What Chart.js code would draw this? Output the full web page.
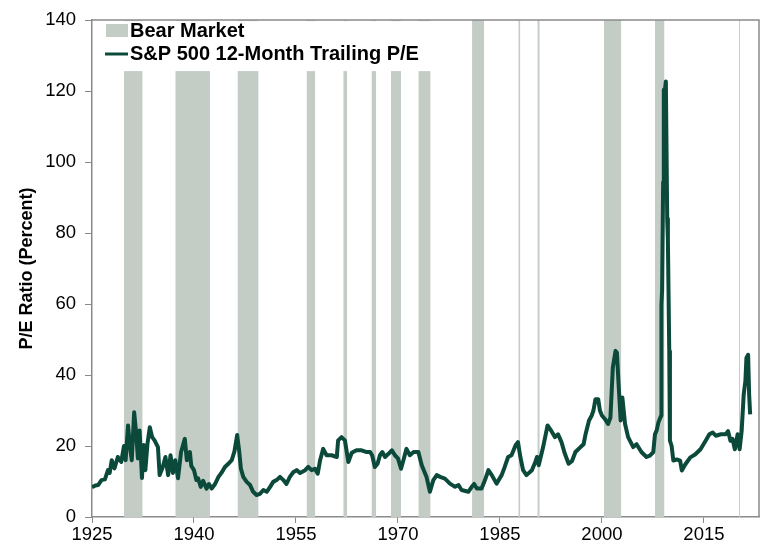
<!DOCTYPE html>
<html>
<head>
<meta charset="utf-8">
<script src="https://cdn.jsdelivr.net/npm/chart.js@4.4.1/dist/chart.umd.min.js"></script>
<style>
html, body { margin: 0; padding: 0; background: #fff; }
#wrap { width: 770px; height: 559px; }
</style>
</head>
<body>
<div id="wrap"><canvas id="peChart" width="770" height="559"></canvas></div>
<script>
// P/E readings (year, value)
var years = [
  1925.0, 1925.5, 1925.9, 1926.4, 1926.9, 1927.35, 1927.6, 1927.9, 1928.3, 1928.8,
  1929.3, 1929.7, 1929.95, 1930.3, 1930.6, 1930.85, 1931.2, 1931.5, 1931.75, 1932.0,
  1932.35, 1932.6, 1932.85, 1933.15, 1933.5, 1933.85, 1934.2, 1934.7, 1934.95, 1935.4,
  1935.8, 1936.2, 1936.55, 1936.9, 1937.25, 1937.65, 1938.1, 1938.65, 1938.95, 1939.4,
  1939.6, 1940.0, 1940.35, 1940.6, 1941.0, 1941.35, 1941.85, 1942.2, 1942.6, 1943.1,
  1943.6, 1944.1, 1944.55, 1945.05, 1945.55, 1945.95, 1946.35, 1946.65, 1946.9, 1947.25,
  1947.75, 1948.25, 1948.7, 1949.2, 1949.7, 1950.2, 1950.7, 1951.2, 1951.65, 1952.15,
  1952.65, 1953.15, 1953.6, 1954.1, 1954.6, 1955.1, 1955.6, 1956.35, 1956.8, 1957.3,
  1957.8, 1958.2, 1958.55, 1959.0, 1959.5, 1960.25, 1961.0, 1961.2, 1961.7, 1962.2,
  1962.45, 1962.7, 1963.2, 1963.9, 1964.65, 1965.4, 1965.9, 1966.2, 1966.6, 1967.0,
  1967.35, 1967.7, 1968.1, 1968.6, 1969.1, 1969.55, 1970.0, 1970.45, 1970.8, 1971.25,
  1971.75, 1972.3, 1973.0, 1973.5, 1974.2, 1974.7, 1975.2, 1975.7, 1976.2, 1976.9,
  1977.65, 1978.4, 1978.9, 1979.35, 1980.35, 1980.85, 1981.2, 1981.6, 1982.3, 1982.8,
  1983.3, 1983.8, 1984.5, 1985.25, 1985.7, 1986.2, 1986.7, 1987.3, 1987.65, 1988.0,
  1988.4, 1988.9, 1989.7, 1990.2, 1990.45, 1990.7, 1991.35, 1992.0, 1992.6, 1993.1,
  1993.55, 1994.05, 1994.55, 1995.1, 1995.6, 1996.1, 1996.85, 1997.3, 1997.6, 1998.1,
  1998.5, 1998.75, 1999.05, 1999.45, 1999.7, 2000.0, 2000.4, 2000.9, 2001.25, 2001.6,
  2002.0, 2002.2, 2002.45, 2002.75, 2003.0, 2003.4, 2003.85, 2004.6, 2005.1, 2005.8,
  2006.55, 2007.05, 2007.55, 2007.8, 2008.05, 2008.3, 2008.7, 2008.75, 2008.85, 2009.0,
  2009.1, 2009.25, 2009.4, 2009.6, 2009.7, 2009.9, 2010.0, 2010.25, 2010.5, 2011.0,
  2011.5, 2011.75, 2012.25, 2013.0, 2013.7, 2014.5, 2015.25, 2015.8, 2016.3, 2016.75,
  2017.5, 2018.2, 2018.55, 2018.9, 2019.2, 2019.55, 2019.95, 2020.25, 2020.55, 2020.85,
  2021.1, 2021.25, 2021.5, 2021.65, 2021.8
];
var peValues = [
  8.4, 8.9, 9.0, 10.4, 10.6, 13.2, 12.4, 16.0, 13.7, 16.9,
  15.5, 20.0, 16.0, 25.8, 19.7, 16.0, 29.5, 23.5, 16.5, 24.4,
  11.0, 20.3, 13.2, 20.5, 25.3, 22.5, 21.6, 19.7, 11.8, 14.0,
  16.9, 11.8, 17.4, 12.4, 16.0, 10.9, 18.3, 22.0, 16.0, 18.3,
  14.4, 13.2, 10.4, 10.9, 8.5, 10.2, 8.0, 9.3, 8.0, 9.3,
  11.3, 12.6, 14.1, 15.0, 16.0, 18.5, 23.1, 18.5, 13.6, 11.3,
  9.9, 9.0, 7.1, 6.2, 6.5, 7.6, 7.1, 8.5, 9.9, 10.4,
  11.3, 10.4, 9.3, 11.3, 12.6, 13.2, 12.4, 13.2, 14.1, 13.2,
  13.6, 12.2, 16.0, 19.2, 17.4, 17.4, 16.9, 21.6, 22.5, 21.6,
  18.5, 15.5, 18.1, 18.8, 18.8, 18.3, 18.3, 17.4, 14.1, 15.0,
  17.4, 18.3, 16.9, 17.8, 18.8, 17.4, 16.5, 13.6, 16.0, 19.2,
  17.4, 18.3, 18.3, 14.6, 11.3, 7.1, 10.4, 11.8, 11.3, 10.8,
  9.4, 8.5, 9.0, 7.6, 7.1, 8.5, 9.3, 8.0, 8.0, 10.4,
  13.2, 11.8, 9.4, 11.8, 14.1, 16.9, 17.4, 20.2, 21.1, 16.9,
  13.2, 11.8, 13.2, 15.5, 16.9, 14.6, 19.7, 25.8, 24.1, 22.5,
  23.3, 21.1, 17.8, 15.0, 15.8, 18.3, 19.7, 20.5, 23.4, 27.2,
  28.6, 30.0, 33.2, 33.2, 30.0, 28.6, 27.7, 26.2, 28.0, 42.1,
  46.8, 46.3, 37.4, 27.2, 33.7, 26.2, 22.5, 19.7, 20.5, 18.3,
  16.9, 17.3, 18.3, 23.3, 24.4, 26.6, 28.5, 59.7, 64.0, 94.3,
  120.4, 120.0, 122.7, 84.0, 78.0, 46.7, 21.5, 20.0, 15.9, 16.2,
  15.9, 13.1, 14.8, 16.8, 17.6, 19.1, 21.5, 23.3, 23.8, 22.9,
  23.3, 23.3, 24.2, 21.5, 22.0, 19.1, 23.3, 19.1, 24.2, 34.5,
  38.3, 44.8, 45.7, 34.5, 28.9
];

// bear market periods
var bearStart = [1929.7, 1937.25, 1946.4, 1956.55, 1961.95, 1966.1, 1968.95, 1973.0, 1980.9, 1987.7, 1990.5, 2000.3, 2007.8, 2020.15];
var bearEnd   = [1932.45, 1942.35, 1949.5, 1957.85, 1962.55, 1966.8, 1970.45, 1974.8, 1982.65, 1988.0, 1990.85, 2002.85, 2009.2, 2020.3];

var xTicks = [1925, 1940, 1955, 1970, 1985, 2000, 2015];
var yTicks = [0, 20, 40, 60, 80, 100, 120, 140];

var lineColor = '#0b4a3b';
var bearColor = '#c3cdc5';
var axisColor = '#8a8a8a';

var pePoints = years.map(function (y, i) { return { x: y, y: peValues[i] }; });

var yMax = yTicks[yTicks.length - 1];
var bearPoints = [];
for (var i = 0; i < bearStart.length; i++) {
  bearPoints.push({ x: bearStart[i], y: yMax });
  bearPoints.push({ x: bearEnd[i], y: yMax });
  bearPoints.push({ x: bearEnd[i], y: null }); // gap between periods
}

// frame + legend inside the plot area (white box over the bands)
var insideLegend = {
  id: 'insideLegend',
  afterDatasetsDraw: function (chart) {
    var c = chart.ctx, a = chart.chartArea;
    var ds = chart.data.datasets;
    c.save();
    c.fillStyle = '#fff';
    c.fillRect(a.left + 1, a.top + 1, 350, 50);

    c.fillStyle = bearColor;
    c.fillRect(106, 24, 22, 13);
    c.strokeStyle = lineColor;
    c.lineWidth = 3;
    c.beginPath();
    c.moveTo(105, 54);
    c.lineTo(128, 54);
    c.stroke();

    c.fillStyle = '#000';
    c.font = 'bold 20px "Liberation Sans", Arial, sans-serif';
    c.textBaseline = 'middle';
    c.fillText(ds[1].label, 130, 31);
    c.fillText(ds[0].label, 130, 54);

    c.strokeStyle = axisColor;
    c.lineWidth = 1.5;
    c.beginPath();
    c.moveTo(a.left, a.top);
    c.lineTo(a.right, a.top);
    c.lineTo(a.right, a.bottom);
    c.stroke();
    c.restore();
  }
};

var ctx = document.getElementById('peChart').getContext('2d');
var peChart = new Chart(ctx, {
  type: 'line',
  data: {
    datasets: [{
      label: 'S&P 500 12-Month Trailing P/E',
      data: pePoints,
      borderColor: lineColor,
      borderWidth: 4,
      borderJoinStyle: 'round',
      pointRadius: 0,
      tension: 0,
      fill: false,
      order: 1
    }, {
      label: 'Bear Market',
      data: bearPoints,
      borderWidth: 0,
      borderColor: 'rgba(0,0,0,0)',
      backgroundColor: bearColor,
      pointRadius: 0,
      tension: 0,
      spanGaps: false,
      fill: 'origin',
      order: 2
    }]
  },
  options: {
    responsive: false,
    animation: false,
    layout: { padding: { top: 17, right: 11, left: 0, bottom: 0 } },
    plugins: {
      legend: { display: false },
      tooltip: { enabled: false }
    },
    scales: {
      x: {
        type: 'linear',
        min: 1925,
        max: 2023.1,
        afterBuildTicks: function (s) { s.ticks = xTicks.map(function (v) { return { value: v }; }); },
        afterFit: function (s) { s.height = 42; },
        ticks: {
          autoSkip: false,
          maxRotation: 0,
          color: '#000',
          padding: 1,
          font: { family: '"Liberation Sans", Arial, sans-serif', size: 18.5 },
          callback: function (v) { return String(v); }
        },
        grid: { display: true, drawOnChartArea: false, tickLength: 6, color: axisColor, lineWidth: 1 },
        border: { display: true, color: axisColor, width: 1.5 }
      },
      y: {
        min: 0,
        max: yMax,
        afterBuildTicks: function (s) { s.ticks = yTicks.map(function (v) { return { value: v }; }); },
        afterFit: function (s) { s.width = 92; },
        ticks: {
          color: '#000',
          padding: 9,
          font: { family: '"Liberation Sans", Arial, sans-serif', size: 18.5 }
        },
        title: {
          display: true,
          text: 'P/E Ratio (Percent)',
          color: '#000',
          padding: { top: 16, bottom: 0 },
          font: { family: '"Liberation Sans", Arial, sans-serif', size: 18, weight: 'bold' }
        },
        grid: { display: true, drawOnChartArea: false, tickLength: 7, color: axisColor, lineWidth: 1 },
        border: { display: true, color: axisColor, width: 1.5 }
      }
    }
  },
  plugins: [insideLegend]
});
</script>
</body>
</html>
